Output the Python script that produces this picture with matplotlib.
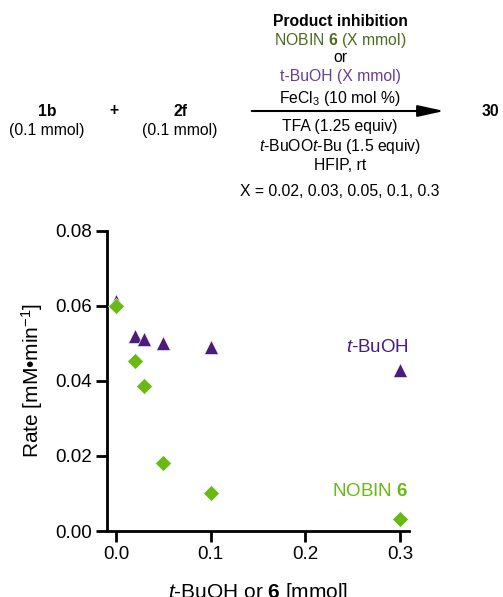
import numpy as np
import matplotlib
matplotlib.use('Agg')
import matplotlib.pyplot as plt

plt.rcParams['font.family'] = ['Liberation Sans', 'DejaVu Sans']
plt.rcParams['mathtext.fontset'] = 'custom'
plt.rcParams['mathtext.rm'] = 'Liberation Sans'
plt.rcParams['mathtext.it'] = 'Liberation Sans:italic'
plt.rcParams['mathtext.bf'] = 'Liberation Sans:bold'

# data
amount = [0.0, 0.02, 0.03, 0.05, 0.1, 0.3]
rate_tbuoh = [0.0613, 0.0520, 0.0511, 0.0502, 0.0490, 0.0428]
rate_nobin = [0.0600, 0.0454, 0.0387, 0.0180, 0.0102, 0.0033]
xticks = [0.0, 0.1, 0.2, 0.3]
yticks = [0.00, 0.02, 0.04, 0.06, 0.08]

purple = '#4b1c7c'
green = '#6ab814'

W, H = 503, 597
fig = plt.figure(figsize=(W/100, H/100), dpi=100)


def fx(px):
	return px/W


def fy(py):
	return 1 - py/H


# reaction scheme on top
fs = 11.3
cx = 340
fig.text(fx(cx), fy(21), 'Product inhibition', ha='center', va='center',
		fontsize=fs, fontweight='bold')
fig.text(fx(cx), fy(41), r'NOBIN $\mathbf{6}$ (X mmol)', ha='center', va='center',
		fontsize=fs, color='#4d6b1f')
fig.text(fx(cx), fy(58), 'or', ha='center', va='center', fontsize=fs)
fig.text(fx(cx), fy(76), 't-BuOH (X mmol)', ha='center', va='center',
		fontsize=fs, color='#6b3b9b')
fig.text(fx(cx), fy(99), r'FeCl$_3$ (10 mol %)', ha='center', va='center', fontsize=fs)
fig.text(fx(cx), fy(127), 'TFA (1.25 equiv)', ha='center', va='center', fontsize=fs)
fig.text(fx(cx), fy(146), r'$\mathit{t}$-BuOO$\mathit{t}$-Bu (1.5 equiv)',
		ha='center', va='center', fontsize=fs)
fig.text(fx(cx), fy(166), 'HFIP, rt', ha='center', va='center', fontsize=fs)
fig.text(fx(cx), fy(191), 'X = 0.02, 0.03, 0.05, 0.1, 0.3', ha='center', va='center',
		fontsize=fs)
fig.add_artist(matplotlib.patches.FancyArrowPatch(
		(fx(249), fy(111)), (fx(447), fy(111)), transform=fig.transFigure,
		arrowstyle='-|>,head_length=1.6,head_width=0.35', mutation_scale=10,
		color='black', lw=1.5))

fig.text(fx(47), fy(112), '1b', ha='center', va='center', fontsize=fs, fontweight='bold')
fig.text(fx(47), fy(131), '(0.1 mmol)', ha='center', va='center', fontsize=fs)
fig.text(fx(114), fy(111), '+', ha='center', va='center', fontsize=fs, fontweight='bold')
fig.text(fx(180), fy(112), '2f', ha='center', va='center', fontsize=fs, fontweight='bold')
fig.text(fx(180), fy(131), '(0.1 mmol)', ha='center', va='center', fontsize=fs)
fig.text(fx(482), fy(112), '30', ha='left', va='center', fontsize=fs, fontweight='bold')

# kinetics plot
ax = fig.add_axes([fx(107), fy(531), fx(409) - fx(107), fy(230.7) - fy(531)])
ax.plot(amount, rate_tbuoh, '^', color=purple, ms=9.5, mec='white', mew=0.4,
		clip_on=False, zorder=3)
ax.plot(amount, rate_nobin, 'D', color=green, ms=8, mec='white', mew=0.4,
		clip_on=False, zorder=4)

ax.set_xlim(-0.0095, 0.3095)
ax.set_ylim(0, 0.08)
ax.set_xticks(xticks)
ax.set_xticklabels(['0.0', '0.1', '0.2', '0.3'])
ax.set_yticks(yticks)
ax.set_yticklabels(['0.00', '0.02', '0.04', '0.06', '0.08'])
for s in ['top', 'right']:
	ax.spines[s].set_visible(False)
for s in ['left', 'bottom']:
	ax.spines[s].set_linewidth(2)
ax.tick_params(width=2, length=8, labelsize=13.5, pad=3)

ax.text(0.3095, 0.0488, r'$\mathit{t}$-BuOH', color=purple, fontsize=13.5,
		ha='right', va='center')
ax.text(0.3085, 0.0105, r'NOBIN $\mathbf{6}$', color=green, fontsize=13.5,
		ha='right', va='center')

ax.set_ylabel(r'Rate [mM•min$^{\mathregular{-1}}$]', fontsize=15, labelpad=7)
ax.set_xlabel(r'$\mathit{t}$-BuOH or $\mathbf{6}$ [mmol]', fontsize=15, labelpad=13)

fig.savefig('out.png', dpi=100)
